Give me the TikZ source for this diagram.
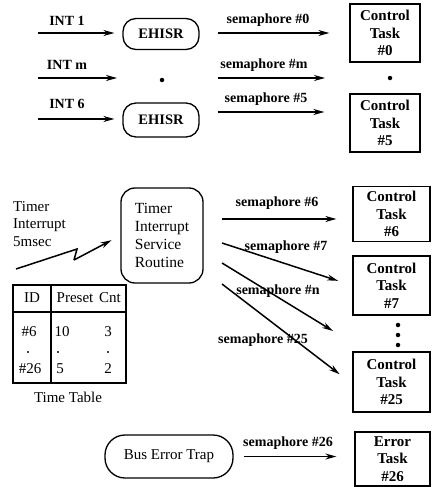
\documentclass[tikz,border=0pt]{standalone}
\usepackage{fontspec}
\setmainfont{Liberation Serif}
\usetikzlibrary{arrows.meta}
\begin{document}
\begin{tikzpicture}[x=1pt,y=-1pt,
  arr/.style={line width=1.5pt,-{Stealth[length=11pt,width=6pt]}},
  taskbox/.style={draw,line width=1.3pt,rectangle,align=center,inner sep=0pt,
    minimum width=70pt,minimum height=58pt,font=\bfseries\fontsize{15}{17.5}\selectfont},
  isrbox/.style={draw,line width=1.3pt,rounded corners=13pt,inner sep=0pt,
    font=\bfseries\fontsize{14.5}{17}\selectfont},
  blab/.style={font=\bfseries\fontsize{14}{17}\selectfont,inner sep=0pt},
  rlab/.style={font=\fontsize{15}{17.5}\selectfont,inner sep=0pt},
  bigdot/.style={circle,fill,inner sep=0pt,minimum size=4.5pt},
  smalldot/.style={circle,fill,inner sep=0pt,minimum size=2.2pt},
]
\useasboundingbox (0,0) rectangle (436,487);

% ---------- top section ----------
\coordinate (i1) at (38,33);
\coordinate (i2) at (38,78);
\coordinate (i3) at (38,119);
\node[isrbox,minimum width=76pt,minimum height=31pt] (eh1) at (161,34) {EHISR};
\node[bigdot] (dm) at (162,80) {};
\node[isrbox,minimum width=76pt,minimum height=34pt] (eh2) at (161,120) {EHISR};

\draw[arr,shorten >=8pt] (i1) -- (i1 -| eh1.west);
\draw[arr,shorten >=45pt] (i2) -- (i2 -| dm);
\draw[arr,shorten >=8pt] (i3) -- (i3 -| eh2.west);
\node[blab] at (67,21) {INT 1};
\node[blab] at (67,65) {INT m};
\node[blab] at (67,104) {INT 6};

\node[taskbox] (t0) at (385,33) {Control\\Task\\\#0};
\node[bigdot] (dt) at (390,78) {};
\node[taskbox] (t5) at (385,123) {Control\\Task\\\#5};

\draw[arr,shorten <=18pt,shorten >=20pt] (eh1.east |- t0.west) -- (t0.west);
\draw[arr,shorten <=56pt,shorten >=65pt] (dm.center |- dt.center) -- (dt.center);
\draw[arr,shorten <=18pt,shorten >=25pt] (eh2.east |- 0,112) -- (t5.west |- 0,112);
\node[blab] at (268,20) {semaphore \#0};
\node[blab] at (264,65) {semaphore \#m};
\node[blab] at (266,99) {semaphore \#5};

% ---------- timer section ----------
\node[rlab,align=left,anchor=north west] (tm) at (13,201) {Timer\\Interrupt\\5msec};
\node[draw,line width=1.3pt,rounded corners=14pt,minimum width=82pt,minimum height=95pt,
  align=left,inner sep=0pt,font=\fontsize{15.5}{18}\selectfont] (tisr) at (162,235.5)
  {Timer\\Interrupt\\Service\\Routine};
\coordinate (z0) at (16,269);
\coordinate (z1) at (77,249);
\coordinate (z2) at (74,260);
\draw[line width=1.5pt] (z0) -- (z1) -- (z2);
\draw[arr,shorten >=10pt] (z2) -- (tisr.west);

% time table
\node[draw,line width=1.3pt,minimum width=113pt,minimum height=98pt,inner sep=0pt] (tab) at (69.5,334) {};
\draw[line width=1.3pt] (51,0 |- tab.north) -- (51,0 |- tab.south);
\draw[line width=1.3pt] (tab.west |- 0,312) -- (tab.east |- 0,312);
\node[rlab] at (32,298) {ID};
\node[rlab] at (75,298) {Preset};
\node[rlab] at (110,298) {Cnt};
\node[rlab] at (29,332) {\#6};
\node[rlab] at (62,332) {10};
\node[rlab] at (108,332) {3};
\node[smalldot] (td1) at (28,352) {};
\node[smalldot] (td2) at (58,352) {};
\node[smalldot] (td3) at (108,352) {};
\node[rlab] at (30,369) {\#26};
\node[rlab] at (60,369) {5};
\node[rlab] at (108,369) {2};
\node[rlab] at (68,397) {Time Table};

% tasks 6..25
\node[taskbox,minimum width=77pt,minimum height=55pt] (t6) at (391.5,214) {Control\\Task\\\#6};
\node[taskbox,minimum width=77pt,minimum height=59pt] (t7) at (391.5,285.5) {Control\\Task\\\#7};
\node[taskbox,minimum width=77pt,minimum height=60pt] (t25) at (391.5,382) {Control\\Task\\\#25};
\node[bigdot] (v1) at (398,325) {};
\node[bigdot] (v2) at (398,335) {};
\node[bigdot] (v3) at (398,345) {};

\coordinate (o6) at (222,219);
\coordinate (o7) at (222,243);
\coordinate (on) at (222,263);
\coordinate (o25) at (222,284);
\coordinate (en) at (333,331);
\draw[arr,shorten >=16pt] (o6) -- (o6 -| t6.west);
\draw[arr,shorten >=15pt] (o7) -- (t7.west);
\draw[arr] (on) -- (en);
\draw[arr,shorten >=16pt] (o25) -- ([yshift=-2pt]t25.west);
\node[blab] at (277,203) {semaphore \#6};
\node[blab] at (286,247) {semaphore \#7};
\node[blab] at (278,291) {semaphore \#n};
\node[blab] at (263,340) {semaphore \#25};

% bus error
\node[draw,line width=1.3pt,rounded corners=20pt,minimum width=128pt,minimum height=43pt,
  inner sep=0pt,font=\fontsize{15}{18}\selectfont] (bet) at (169,456.5) {Bus Error Trap};
\node[taskbox,minimum width=75pt,minimum height=54pt] (t26) at (392.5,459) {Error\\Task\\\#26};
\draw[arr,shorten <=10pt,shorten >=18pt] (bet.east) -- (bet.east -| t26.west);
\node[blab] at (288,443) {semaphore \#26};
\end{tikzpicture}
\end{document}
